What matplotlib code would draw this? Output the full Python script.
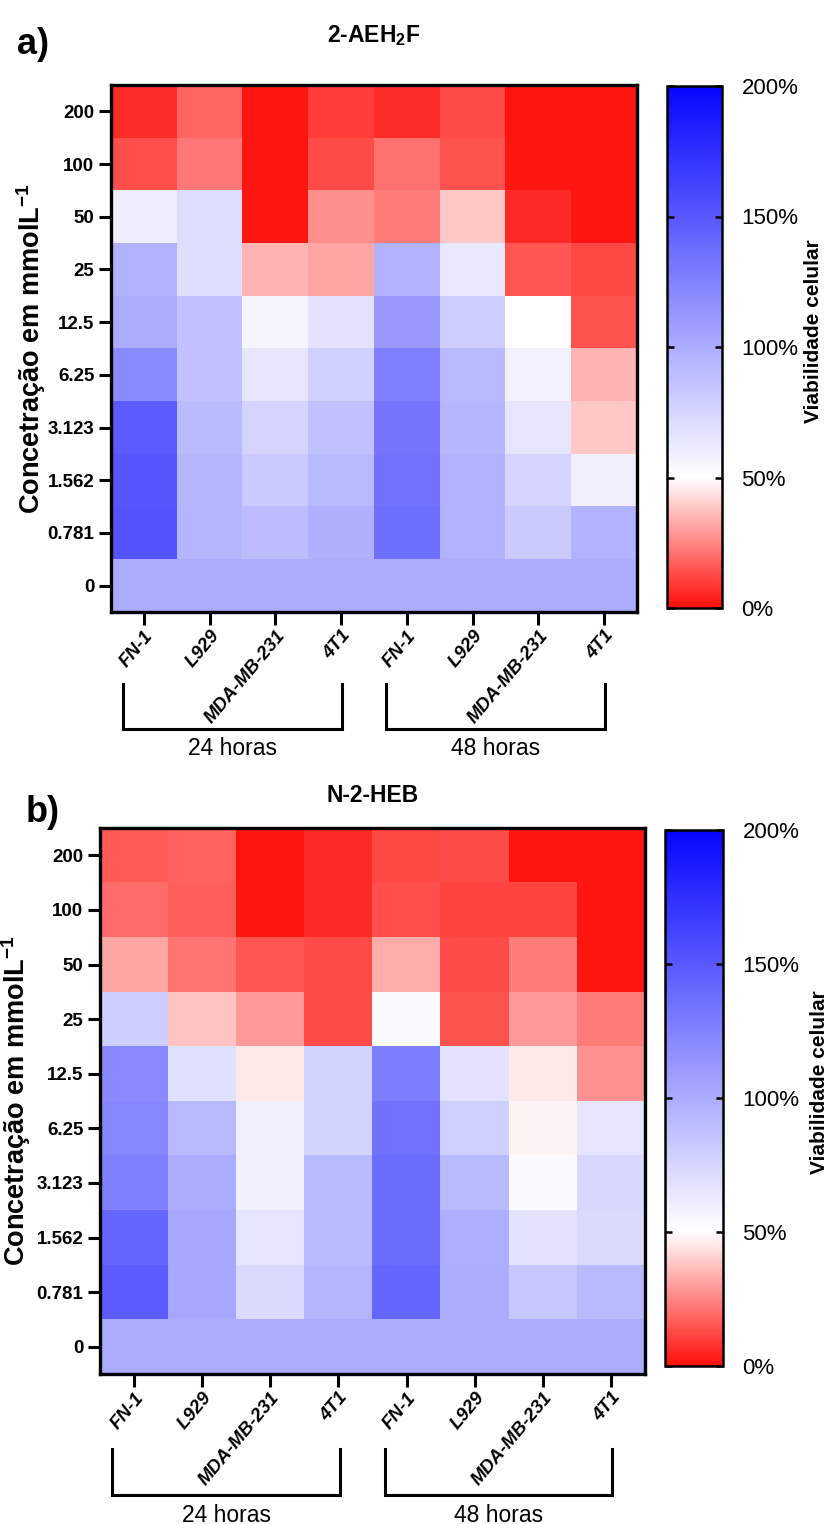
import numpy as np
import matplotlib
matplotlib.use("Agg")
import matplotlib.pyplot as plt
from matplotlib.colors import LinearSegmentedColormap
from matplotlib import transforms

plt.rcParams["font.family"] = ["Liberation Sans", "DejaVu Sans"]
plt.rcParams["mathtext.fontset"] = "custom"
plt.rcParams["mathtext.bf"] = "Liberation Sans:bold"
plt.rcParams["mathtext.rm"] = "Liberation Sans"

concentrations = ["200", "100", "50", "25", "12.5", "6.25", "3.123", "1.562", "0.781", "0"]
cell_lines = ["FN-1", "L929", "MDA-MB-231", "4T1", "FN-1", "L929", "MDA-MB-231", "4T1"]
groups = ["24 horas", "48 horas"]

# cell viability (%) rows = concentration (top = 200), cols = cell line (24 h then 48 h)
aeh2f = [
    [7, 18, 2, 10, 7, 13, 2, 2],
    [14, 22, 2, 12.5, 21, 14.5, 2, 2],
    [60, 70, 2, 27, 23, 38.5, 6, 2],
    [96, 70, 34.5, 32, 96, 64, 15, 12],
    [100, 87, 56, 67, 111, 80, 50, 14.5],
    [120, 87, 65, 78, 126, 92, 58, 34.5],
    [148, 91, 75, 87, 133, 93.5, 65, 38.5],
    [151, 93, 82, 92, 134, 96, 75, 59],
    [153, 95, 90, 97.5, 136.5, 96, 82, 96],
    [100, 100, 100, 100, 100, 100, 100, 100],
]
n2heb = [
    [15.7, 17.6, 2, 5.5, 12, 13, 2, 2],
    [20, 16.7, 2, 5.5, 13.5, 11, 11, 2],
    [32, 21.6, 15, 12.5, 33, 12.5, 23, 2],
    [80, 38, 29, 12.5, 53, 14.5, 29, 23],
    [119, 68, 46, 76.5, 127, 67, 45.5, 27.5],
    [122, 92, 59, 76.5, 134, 78, 48.4, 65],
    [126, 100, 59, 92, 137.6, 92, 53, 73],
    [142, 103, 65, 92, 137.6, 98, 67, 72],
    [148, 103, 72, 95, 142, 100, 83.5, 92],
    [100, 100, 100, 100, 100, 100, 100, 100],
]

cmap = LinearSegmentedColormap.from_list(
    "viab", [(0, (1.0, 0.06, 0.04)), (0.25, "white"), (1.0, (0.02, 0.02, 1.0))])

W, H = 829, 1524
fig = plt.figure(figsize=(W / 100, H / 100), dpi=100)


def rect(l, r, t, b):
    return [l / W, 1 - b / H, (r - l) / W, (b - t) / H]


def panel(data, letter, title, axbox, cbbox, letter_xy, title_y, ylab_right):
    ax = fig.add_axes(rect(*axbox))
    im = ax.imshow(np.array(data), cmap=cmap, vmin=0, vmax=200, aspect="auto",
                   interpolation="nearest")
    ax.set_yticks(range(len(concentrations)))
    ax.set_yticklabels(concentrations, fontsize=13.5, fontweight="bold")
    ax.set_xticks(range(len(cell_lines)))
    ax.set_xticklabels(cell_lines, fontsize=13.5, fontweight="bold", style="italic",
                       rotation=50, ha="right", va="top", rotation_mode="anchor")
    ax.tick_params(length=9, width=2.2, pad=3)
    ax.tick_params(axis="x", pad=2)
    for s in ax.spines.values():
        s.set_linewidth(2.4)
    ax.set_ylabel("Concetração em mmolL$^{\\mathbf{-1}}$", fontsize=19.5, fontweight="bold")
    ax.yaxis.set_label_coords((ylab_right - axbox[0]) / (axbox[1] - axbox[0]), 0.5)
    ax.text(0.5, 1 + (axbox[2] - title_y) / (axbox[3] - axbox[2]), title,
            transform=ax.transAxes, ha="center", va="center", fontsize=16.5,
            fontweight="bold")
    fig.text(letter_xy[0] / W, 1 - letter_xy[1] / H, letter, fontsize=26,
             fontweight="bold", ha="left", va="center")

    # brackets for time groups
    tr = transforms.blended_transform_factory(ax.transData, ax.transAxes)
    n = len(cell_lines) // len(groups)
    for g, name in enumerate(groups):
        x0 = g * n - 0.32
        x1 = g * n + n - 1 + 0.02
        ax.plot([x0, x0, x1, x1], [-0.137, -0.222, -0.222, -0.137], color="black",
                lw=2.2, transform=tr, clip_on=False, solid_joinstyle="miter")
        ax.text((x0 + x1) / 2, -0.259, name, transform=tr, ha="center", va="center",
                fontsize=16.5)

    cax = fig.add_axes(rect(*cbbox))
    cb = fig.colorbar(im, cax=cax, ticks=[0, 50, 100, 150, 200])
    cb.outline.set_linewidth(1.8)
    cax.set_yticklabels([f"{v}%" for v in [0, 50, 100, 150, 200]], fontsize=16)
    cax.tick_params(direction="in", left=True, right=True, length=5, width=1.8, pad=14)
    cb.set_label("Viabilidade celular", fontsize=15, fontweight="bold")
    cax.yaxis.set_label_coords(2.5, 0.53)
    return ax


panel(aeh2f, "a)", "2-AEH$_\\mathbf{2}$F", (111, 637, 85, 612), (667, 722, 86, 608),
      (17, 45), 36, 48)
panel(n2heb, "b)", "N-2-HEB", (100, 645, 828, 1374), (665, 723, 830, 1366),
      (26, 812), 796, 33)

fig.savefig("out.png", dpi=100)
